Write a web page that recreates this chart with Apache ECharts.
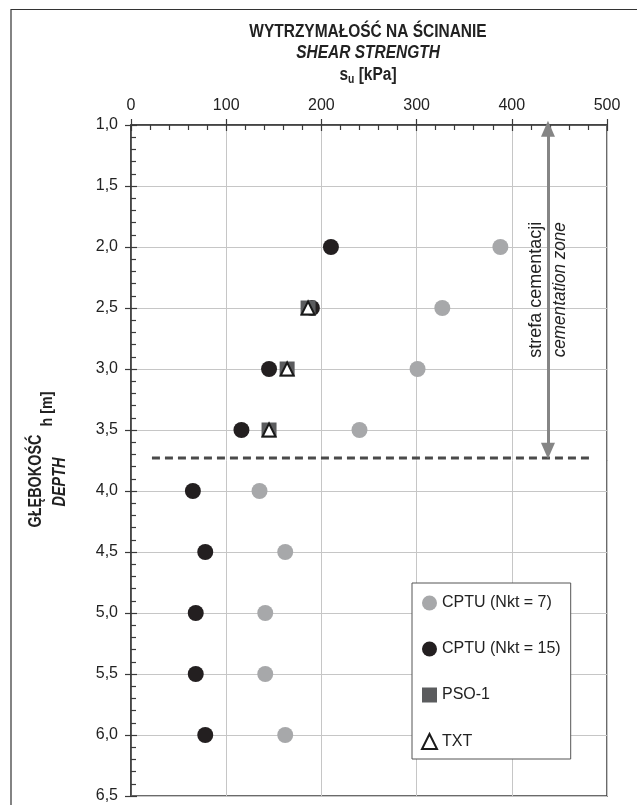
<!DOCTYPE html>
<html lang="pl">
<head>
<meta charset="UTF-8">
<title>Wytrzymałość na ścinanie</title>
<script src="https://cdn.jsdelivr.net/npm/echarts@6/dist/echarts.min.js"></script>
<style>
    html, body { margin: 0; padding: 0; background: #fff; }
    #chart { width: 637px; height: 805px; }
</style>
</head>
<body>
<div id="chart"></div>
<script>
    // głębokości pomiarów CPTU [m]
    const depths = [2.0, 2.5, 3.0, 3.5, 4.0, 4.5, 5.0, 5.5, 6.0];
    const cptuNkt7 = [388, 327, 301, 240, 135, 162, 141, 141, 162];
    const cptuNkt15 = [210, 190, 145, 116, 65, 78, 68, 68, 78];

    // badania laboratoryjne
    const labDepths = [2.5, 3.0, 3.5];
    const pso1 = [186, 164, 145];
    const txt = [186, 164, 145];

    // strefa cementacji
    const zoneBottom = 3.73;
    const zoneLineX = [22, 486];
    const zoneArrowX = 438;
    const zoneArrowTop = 1.03;
    const zoneArrowEnd = 3.67;
    const zoneLabelDepth = 2.35;

    const seriesNames = ['CPTU (Nkt = 7)', 'CPTU (Nkt = 15)', 'PSO-1', 'TXT'];

    const FONT = "'Liberation Sans', Arial, sans-serif";
    const AXIS = '#3a3a3a';

    const pairs = (xs, ys) => xs.map((x, i) => [x, ys[i]]);

    const chart = echarts.init(document.getElementById('chart'));

    function baseX(extra) {
        return Object.assign({
            type: 'value', position: 'top', min: 0, max: 500, interval: 100
        }, extra);
    }
    function baseY(extra) {
        return Object.assign({
            type: 'value', position: 'left', inverse: true, min: 1, max: 6.5, interval: 0.5
        }, extra);
    }

    const option = {
        animation: false,
        grid: {
            left: 131, right: 30, top: 125, bottom: 9,
            show: true, borderColor: AXIS, borderWidth: 1.5,
            outerBoundsMode: 'none'
        },
        legend: {
            data: seriesNames,
            orient: 'vertical',
            left: 412, top: 583,
            itemWidth: 15, itemHeight: 15, itemGap: 30,
            padding: [12, 10, 9, 9],
            borderColor: '#555', borderWidth: 1,
            backgroundColor: '#fff',
            textStyle: { fontSize: 16, color: '#222', fontFamily: FONT }
        },
        xAxis: [
            baseX({
                axisLine: { show: true, lineStyle: { color: AXIS, width: 1.5 } },
                axisTick: { show: true, inside: true, length: 6, lineStyle: { color: AXIS, width: 1.2 } },
                minorTick: { show: true, splitNumber: 5, length: 5, lineStyle: { color: AXIS, width: 1.2 } },
                axisLabel: { margin: 11, fontSize: 16, color: '#222', fontFamily: FONT },
                splitLine: { show: true, lineStyle: { color: '#c6c6c6', width: 1 } }
            }),
            baseX({
                axisLine: { show: false },
                axisTick: { show: true, inside: false, length: 6, lineStyle: { color: AXIS, width: 1.2 } },
                axisLabel: { show: false },
                splitLine: { show: false }
            })
        ],
        yAxis: [
            baseY({
                axisLine: { show: true, lineStyle: { color: AXIS, width: 1.5 } },
                axisTick: { show: true, inside: true, length: 6, lineStyle: { color: AXIS, width: 1.2 } },
                minorTick: { show: true, splitNumber: 5, length: 5, lineStyle: { color: AXIS, width: 1.2 } },
                axisLabel: {
                    margin: 13, fontSize: 16, color: '#222', fontFamily: FONT,
                    formatter: v => v.toFixed(1).replace('.', ',')
                },
                splitLine: { show: true, lineStyle: { color: '#c6c6c6', width: 1 } }
            }),
            baseY({
                axisLine: { show: false },
                axisTick: { show: true, inside: false, length: 6, lineStyle: { color: AXIS, width: 1.2 } },
                axisLabel: { show: false },
                splitLine: { show: false }
            })
        ],
        series: [
            {
                name: 'granica',
                type: 'line',
                data: [[zoneLineX[0], zoneBottom], [zoneLineX[1], zoneBottom]],
                symbol: 'none',
                silent: true,
                lineStyle: { color: '#4a4a4a', width: 3, type: [8, 5] },
                markLine: {
                    silent: true,
                    symbol: ['triangle', 'triangle'],
                    symbolSize: [14, 16],
                    label: { show: false },
                    lineStyle: { color: '#858585', width: 3, type: 'solid' },
                    data: [[{ coord: [zoneArrowX, zoneArrowTop] }, { coord: [zoneArrowX, zoneArrowEnd] }]]
                }
            },
            {
                name: seriesNames[0], type: 'scatter', symbol: 'circle', symbolSize: 16,
                itemStyle: { color: '#a7a8aa', opacity: 1 },
                data: pairs(cptuNkt7, depths)
            },
            {
                name: seriesNames[1], type: 'scatter', symbol: 'circle', symbolSize: 16,
                itemStyle: { color: '#231f20', opacity: 1 },
                data: pairs(cptuNkt15, depths)
            },
            {
                name: seriesNames[2], type: 'scatter', symbol: 'rect', symbolSize: 15,
                itemStyle: { color: '#5b5c5e', opacity: 1 },
                data: pairs(pso1, labDepths)
            },
            {
                name: seriesNames[3], type: 'scatter', symbol: 'triangle', symbolSize: 13,
                itemStyle: { color: '#fff', borderColor: '#1a1a1a', borderWidth: 2, opacity: 1 },
                data: pairs(txt, labDepths)
            }
        ]
    };

    chart.setOption(option);

    const bold = (size, italic) => ({
        fontFamily: FONT, fontSize: size, fontWeight: 'bold',
        fontStyle: italic ? 'italic' : 'normal', fill: '#222',
        align: 'center', verticalAlign: 'middle'
    });

    const px = chart.convertToPixel({ xAxisIndex: 0, yAxisIndex: 0 }, [zoneArrowX, zoneLabelDepth]);

    chart.setOption({
        graphic: [
            {
                type: 'rect', silent: true,
                shape: { x: 11, y: 9.5, width: 700, height: 900 },
                style: { fill: 'none', stroke: '#333', lineWidth: 1.2 }
            },
            { type: 'text', x: 368, y: 32, scaleX: 0.86, style: Object.assign({ text: 'WYTRZYMAŁOŚĆ NA ŚCINANIE' }, bold(18)) },
            { type: 'text', x: 368, y: 53, scaleX: 0.86, style: Object.assign({ text: 'SHEAR STRENGTH' }, bold(18, true)) },
            {
                type: 'text', x: 368, y: 75, scaleX: 0.86,
                style: {
                    text: '{s|s}{u|u}{s| [kPa]}',
                    align: 'center', verticalAlign: 'middle',
                    rich: {
                        s: { fontFamily: FONT, fontSize: 18, fontWeight: 'bold', fill: '#222', lineHeight: 22 },
                        u: { fontFamily: FONT, fontSize: 12, fontWeight: 'bold', fill: '#222', lineHeight: 12, verticalAlign: 'bottom' }
                    }
                }
            },
            { type: 'text', x: 36, y: 481, rotation: Math.PI / 2, scaleX: 0.8, style: Object.assign({ text: 'GŁĘBOKOŚĆ' }, bold(18)) },
            { type: 'text', x: 47, y: 409, rotation: Math.PI / 2, scaleX: 0.84, style: Object.assign({ text: 'h [m]' }, bold(17)) },
            { type: 'text', x: 60, y: 482, rotation: Math.PI / 2, scaleX: 0.8, style: Object.assign({ text: 'DEPTH' }, bold(18, true)) },
            {
                type: 'text', x: px[0] - 12, y: px[1], rotation: Math.PI / 2,
                style: {
                    text: 'strefa cementacji', fontFamily: FONT, fontSize: 18, fill: '#222',
                    align: 'center', verticalAlign: 'middle'
                }
            },
            {
                type: 'text', x: px[0] + 12, y: px[1], rotation: Math.PI / 2, scaleX: 0.95,
                style: {
                    text: 'cementation zone', fontFamily: FONT, fontSize: 18, fontStyle: 'italic', fill: '#222',
                    align: 'center', verticalAlign: 'middle'
                }
            }
        ]
    });

    window.addEventListener('resize', () => chart.resize());
</script>
</body>
</html>
